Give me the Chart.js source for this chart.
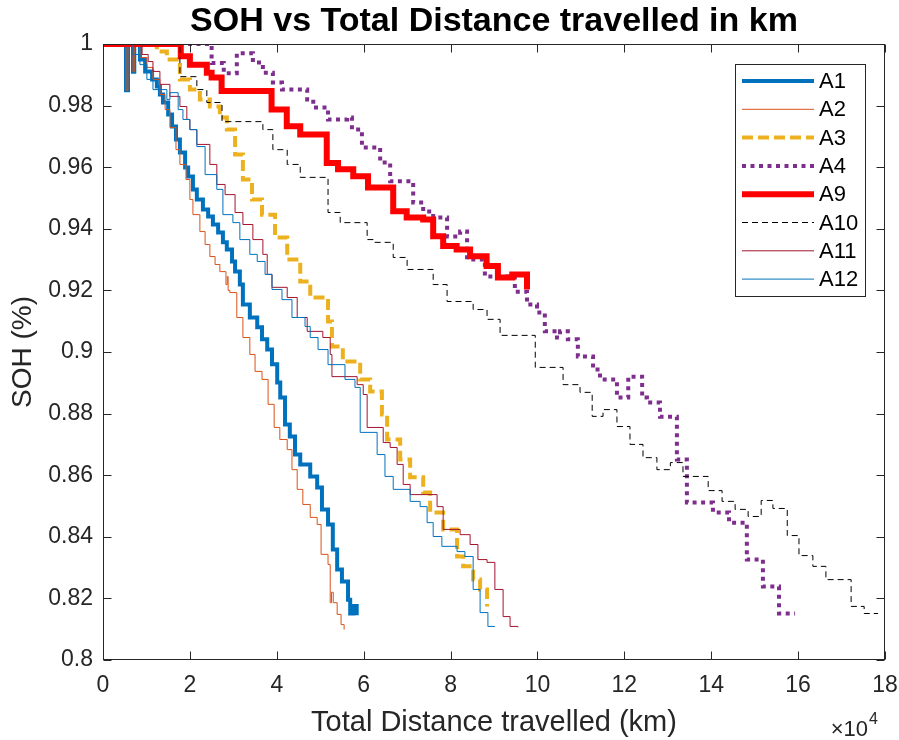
<!DOCTYPE html>
<html>
<head>
<meta charset="utf-8">
<script src="https://cdn.jsdelivr.net/npm/chart.js@4.4.1/dist/chart.umd.min.js"></script>
<style>
  html, body { margin: 0; padding: 0; background: #ffffff; }
</style>
</head>
<body>
<canvas id="chart" width="899" height="740"></canvas>
<script>
// distance in units of 10^4 km, SOH as a fraction
const seriesLabels = ["A1", "A2", "A3", "A4", "A9", "A10", "A11", "A12"]

const a1Km = [0, 0.53, 0.575, 0.69, 0.72, 0.85, 0.97, 1.13, 1.24, 1.31, 1.38, 1.50, 1.59, 1.68, 1.77, 1.89, 1.96, 2.07, 2.16, 2.30, 2.42, 2.53, 2.65, 2.76, 2.85, 2.97, 3.04, 3.15, 3.22, 3.38, 3.55, 3.66, 3.78, 3.89, 4.01, 4.08, 4.19, 4.30, 4.42, 4.54, 4.77, 4.93, 5.04, 5.18, 5.29, 5.39, 5.50, 5.64, 5.69, 5.76, 5.84]
const a1Soh = [1, 0.985, 1, 0.991, 1, 0.995, 0.9911, 0.9885, 0.9862, 0.9836, 0.981, 0.9771, 0.9732, 0.969, 0.9648, 0.9599, 0.957, 0.9528, 0.9495, 0.9463, 0.944, 0.9414, 0.9388, 0.9356, 0.9333, 0.9294, 0.9261, 0.9219, 0.9154, 0.9112, 0.908, 0.9041, 0.9008, 0.896, 0.8901, 0.8852, 0.8765, 0.8726, 0.8667, 0.8635, 0.8596, 0.856, 0.8489, 0.844, 0.8359, 0.8294, 0.8255, 0.8196, 0.8151, 0.8175, 0.8145]

const a2Km = [0, 0.53, 0.575, 0.69, 0.72, 0.85, 1.01, 1.15, 1.31, 1.43, 1.54, 1.68, 1.77, 1.91, 2.0, 2.07, 2.23, 2.35, 2.46, 2.58, 2.69, 2.83, 2.86, 2.88, 2.92, 3.08, 3.22, 3.38, 3.50, 3.66, 3.80, 3.94, 4.07, 4.24, 4.35, 4.47, 4.60, 4.77, 4.93, 5.02, 5.18, 5.23, 5.26, 5.30, 5.39, 5.48, 5.55]
const a2Soh = [1, 0.985, 1, 0.991, 1, 0.9956, 0.9924, 0.9885, 0.9836, 0.9787, 0.9729, 0.9657, 0.9609, 0.956, 0.9495, 0.9446, 0.9391, 0.9349, 0.931, 0.9284, 0.9261, 0.9219, 0.9245, 0.92, 0.9193, 0.9112, 0.9047, 0.8992, 0.8937, 0.8911, 0.883, 0.8755, 0.8716, 0.8683, 0.8618, 0.8554, 0.8505, 0.8463, 0.844, 0.8343, 0.831, 0.8186, 0.822, 0.8186, 0.8148, 0.8115, 0.8099]

const a3Km = [0, 1.24, 1.47, 1.77, 2.0, 2.23, 2.46, 2.69, 2.85, 3.04, 3.22, 3.43, 3.66, 3.96, 4.24, 4.54, 4.77, 5.18, 5.27, 5.52, 5.92, 6.15, 6.42, 6.54, 6.84, 7.07, 7.37, 7.53, 7.83, 8.15, 8.29, 8.52, 8.68, 8.84]
const a3Soh = [1, 0.9976, 0.995, 0.9885, 0.9852, 0.982, 0.9797, 0.9761, 0.9722, 0.9641, 0.956, 0.9495, 0.9446, 0.9372, 0.93, 0.9229, 0.9177, 0.9099, 0.9018, 0.8969, 0.8911, 0.8872, 0.8797, 0.8716, 0.8651, 0.8593, 0.8544, 0.8479, 0.8424, 0.8336, 0.8304, 0.8261, 0.8229, 0.8174]

const a4Km = [0, 2.5, 2.78, 3.08, 3.45, 3.68, 3.91, 4.12, 4.70, 4.84, 5.18, 5.62, 5.73, 5.96, 6.38, 6.61, 7.14, 7.37, 7.60, 7.92, 8.22, 8.38, 8.79, 9.48, 9.76, 9.99, 10.17, 10.45, 10.52, 10.70, 10.93, 11.28, 11.44, 11.83, 12.09, 12.41, 12.52, 12.82, 13.21, 13.44, 14.04, 14.41, 14.82, 15.19, 15.56, 15.93]
const a4Soh = [1, 0.9938, 0.9905, 0.997, 0.994, 0.9907, 0.9875, 0.9852, 0.982, 0.9794, 0.9755, 0.9761, 0.9722, 0.9664, 0.9615, 0.9554, 0.9485, 0.9456, 0.9437, 0.9375, 0.9391, 0.930, 0.9245, 0.9196, 0.9154, 0.9128, 0.9067, 0.9047, 0.9067, 0.9041, 0.8985, 0.8943, 0.8911, 0.8852, 0.892, 0.8852, 0.8836, 0.879, 0.8651, 0.8511, 0.8479, 0.8446, 0.8326, 0.8239, 0.8151, 0.8151]

const a9Km = [0, 1.79, 2.0, 2.39, 2.50, 2.73, 3.88, 4.23, 4.54, 5.15, 5.41, 5.76, 6.10, 6.68, 6.99, 7.37, 7.60, 7.83, 8.14, 8.45, 8.83, 9.09, 9.42, 9.76]
const a9Soh = [1, 0.996, 0.9933, 0.9907, 0.9891, 0.9847, 0.9787, 0.9733, 0.9706, 0.9614, 0.9593, 0.9571, 0.9534, 0.9457, 0.9437, 0.943, 0.9376, 0.9344, 0.9333, 0.9311, 0.9279, 0.9242, 0.9252, 0.9203]

const a10Km = [0, 1.77, 2.16, 2.39, 2.74, 3.68, 3.91, 4.24, 4.54, 5.18, 5.46, 6.08, 6.22, 6.68, 7.0, 7.60, 7.92, 8.52, 8.84, 9.14, 9.95, 10.59, 10.98, 11.26, 11.51, 11.83, 12.13, 12.43, 12.75, 13.06, 13.35, 13.93, 14.25, 14.55, 14.85, 15.15, 15.42, 15.75, 16.02, 16.34, 16.64, 17.22, 17.52, 17.84]
const a10Soh = [1, 0.9894, 0.9852, 0.981, 0.9748, 0.9722, 0.9657, 0.9609, 0.9567, 0.9453, 0.942, 0.9365, 0.9356, 0.9307, 0.9268, 0.9219, 0.9164, 0.9138, 0.9106, 0.9054, 0.895, 0.8894, 0.8869, 0.8791, 0.8813, 0.8758, 0.87, 0.8657, 0.8618, 0.8641, 0.8596, 0.855, 0.8515, 0.8489, 0.8466, 0.8518, 0.8492, 0.8404, 0.8339, 0.8304, 0.8261, 0.8174, 0.8151, 0.8151]

const a11Km = [0, 0.90, 1.04, 1.15, 1.31, 1.54, 1.77, 1.93, 2.0, 2.16, 2.46, 2.62, 2.81, 3.04, 3.22, 3.45, 3.68, 3.78, 3.89, 4.24, 4.47, 4.70, 5.06, 5.23, 5.27, 5.85, 5.99, 6.08, 6.45, 6.61, 6.77, 6.91, 7.07, 7.69, 7.83, 8.22, 8.45, 8.63, 8.84, 9.02, 9.21, 9.37, 9.55]
const a11Soh = [1, 0.9966, 0.9943, 0.9911, 0.9869, 0.983, 0.9797, 0.9755, 0.9722, 0.9674, 0.9609, 0.9544, 0.9511, 0.9453, 0.9414, 0.9365, 0.9317, 0.9252, 0.921, 0.9177, 0.9112, 0.9067, 0.9047, 0.8992, 0.892, 0.8894, 0.8862, 0.8755, 0.8706, 0.869, 0.8635, 0.857, 0.8537, 0.8498, 0.8424, 0.8407, 0.8375, 0.8326, 0.8317, 0.8229, 0.8141, 0.8109, 0.8106]

const a12Km = [0, 0.69, 0.85, 1.01, 1.15, 1.47, 1.54, 1.73, 1.84, 2.0, 2.16, 2.35, 2.62, 2.76, 2.99, 3.15, 3.38, 3.55, 3.73, 3.89, 4.12, 4.35, 4.65, 4.77, 4.95, 5.18, 5.57, 5.80, 5.92, 6.31, 6.49, 6.68, 7.07, 7.30, 7.46, 7.60, 7.80, 8.15, 8.33, 8.52, 8.68, 8.86, 9.02]
const a12Soh = [1, 0.9966, 0.9933, 0.9885, 0.9852, 0.982, 0.9842, 0.9787, 0.9755, 0.9722, 0.9667, 0.9576, 0.9528, 0.9446, 0.942, 0.9365, 0.9317, 0.9294, 0.9252, 0.9203, 0.917, 0.9112, 0.9083, 0.9047, 0.9008, 0.8959, 0.8911, 0.8885, 0.8739, 0.8667, 0.8596, 0.8554, 0.8515, 0.8498, 0.8446, 0.8401, 0.8369, 0.8352, 0.8336, 0.8229, 0.8154, 0.8109, 0.8109]

const xTickStep = 2
const yTickStep = 0.02

const FONT = "'Liberation Sans', Arial, Helvetica, sans-serif"
const AXIS_COLOUR = "#262626"

const seriesData = [
  [a1Km, a1Soh], [a2Km, a2Soh], [a3Km, a3Soh], [a4Km, a4Soh],
  [a9Km, a9Soh], [a10Km, a10Soh], [a11Km, a11Soh], [a12Km, a12Soh]
]

const seriesStyles = [
  { borderColor: "#0072BD", borderWidth: 4 },
  { borderColor: "#D95319", borderWidth: 1 },
  { borderColor: "#EDB120", borderWidth: 4, borderDash: [11, 5] },
  { borderColor: "#7E2F8E", borderWidth: 4, borderDash: [4, 4.5] },
  { borderColor: "#FF0000", borderWidth: 6 },
  { borderColor: "#000000", borderWidth: 1, borderDash: [6, 4] },
  { borderColor: "#A2142F", borderWidth: 1 },
  { borderColor: "#0072BD", borderWidth: 1 }
]

const toPoints = (xs, ys) => xs.map((x, i) => ({ x, y: ys[i] }))

const datasets = seriesLabels.map((label, index) => ({
  label,
  data: toPoints(seriesData[index][0], seriesData[index][1]),
  ...seriesStyles[index],
  stepped: true,
  fill: false,
  pointRadius: 0,
  borderCapStyle: "butt",
  borderJoinStyle: "miter",
  order: seriesLabels.length - index
}))

// box with inward ticks on every side, like a MATLAB axes
const axesFrame = {
  id: "axesFrame",
  afterDatasetsDraw(chart) {
    const { ctx, chartArea: area, scales } = chart
    const left = area.left + 0.5
    const right = area.right - 0.5
    const top = area.top + 0.5
    const bottom = area.bottom - 0.5
    const tick = 8

    ctx.save()
    ctx.strokeStyle = AXIS_COLOUR
    ctx.lineWidth = 1
    ctx.strokeRect(left, top, right - left, bottom - top)

    ctx.beginPath()
    scales.x.ticks.forEach((t) => {
      const px = Math.round(scales.x.getPixelForValue(t.value)) + 0.5
      ctx.moveTo(px, bottom); ctx.lineTo(px, bottom - tick)
      ctx.moveTo(px, top); ctx.lineTo(px, top + tick)
    })
    scales.y.ticks.forEach((t) => {
      const py = Math.round(scales.y.getPixelForValue(t.value)) + 0.5
      ctx.moveTo(left, py); ctx.lineTo(left + tick, py)
      ctx.moveTo(right, py); ctx.lineTo(right - tick, py)
    })
    ctx.stroke()

    // x10^4 exponent under the right end of the x axis
    ctx.fillStyle = AXIS_COLOUR
    ctx.textBaseline = "alphabetic"
    ctx.textAlign = "right"
    ctx.font = `22px ${FONT}`
    ctx.fillText("\u00d710", 868, 736)
    ctx.textAlign = "left"
    ctx.font = `16px ${FONT}`
    ctx.fillText("4", 869, 724)
    ctx.restore()
  }
}

const boxedLegend = {
  id: "boxedLegend",
  afterDraw(chart) {
    const { ctx } = chart
    const left = 735.5
    const top = 64.5
    const width = 130
    const height = 232

    ctx.save()
    ctx.fillStyle = "#ffffff"
    ctx.fillRect(left, top, width, height)
    ctx.strokeStyle = AXIS_COLOUR
    ctx.lineWidth = 1
    ctx.strokeRect(left, top, width, height)

    chart.data.datasets.forEach((dataset, index) => {
      const y = 81 + index * 28.3
      ctx.beginPath()
      ctx.setLineDash(dataset.borderDash || [])
      ctx.lineCap = "butt"
      ctx.lineWidth = dataset.borderWidth
      ctx.strokeStyle = dataset.borderColor
      ctx.moveTo(742, y)
      ctx.lineTo(814, y)
      ctx.stroke()

      ctx.setLineDash([])
      ctx.fillStyle = "#000000"
      ctx.font = `22px ${FONT}`
      ctx.textAlign = "left"
      ctx.textBaseline = "middle"
      ctx.fillText(dataset.label, 819, y + 1)
    })
    ctx.restore()
  }
}

Chart.defaults.font.family = FONT

new Chart(document.getElementById("chart"), {
  type: "line",
  data: { datasets },
  options: {
    responsive: false,
    animation: false,
    devicePixelRatio: 1,
    layout: { padding: { left: 0, right: 14, top: 0, bottom: 0 } },
    plugins: {
      legend: { display: false },
      tooltip: { enabled: false },
      title: {
        display: true,
        text: "SOH vs Total Distance travelled in km",
        fullSize: false,
        color: "#000000",
        font: { size: 34, weight: "bold", lineHeight: 1.2 },
        padding: { top: 1, bottom: 2.2 }
      }
    },
    scales: {
      x: {
        type: "linear",
        min: 0,
        max: 18,
        grid: { display: false, drawTicks: false },
        border: { display: false },
        ticks: {
          stepSize: xTickStep,
          autoSkip: false,
          maxRotation: 0,
          padding: 12,
          color: AXIS_COLOUR,
          font: { size: 23 },
          callback: (value) => String(value)
        },
        title: {
          display: true,
          text: "Total Distance travelled (km)",
          color: AXIS_COLOUR,
          font: { size: 29, lineHeight: 1.2 },
          padding: { top: 4, bottom: 0 }
        },
        afterFit: (scale) => {
          scale.height = 80
          scale.paddingLeft = 0
          scale.paddingRight = 0
        }
      },
      y: {
        type: "linear",
        min: 0.8,
        max: 1,
        grid: { display: false, drawTicks: false },
        border: { display: false },
        ticks: {
          stepSize: yTickStep,
          autoSkip: false,
          padding: 10,
          color: AXIS_COLOUR,
          font: { size: 23 },
          callback: (value) => String(Number(value.toFixed(2)))
        },
        title: {
          display: true,
          text: "SOH (%)",
          color: AXIS_COLOUR,
          font: { size: 28, lineHeight: 1.2 },
          padding: { top: 6, bottom: 0 }
        },
        afterFit: (scale) => {
          scale.width = 103
          scale.paddingTop = 0
          scale.paddingBottom = 0
        }
      }
    }
  },
  plugins: [axesFrame, boxedLegend]
})
</script>
</body>
</html>
